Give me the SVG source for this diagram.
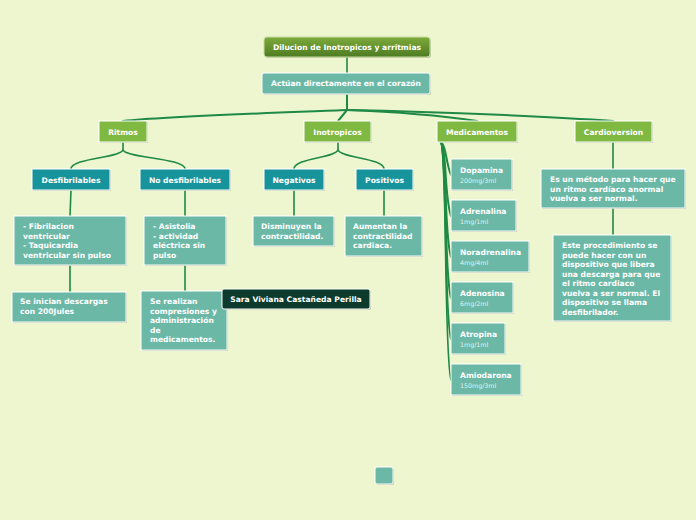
<svg xmlns="http://www.w3.org/2000/svg" width="696" height="520" viewBox="0 0 696 520">
<defs>
<linearGradient id="rootg" x1="0" y1="0" x2="0" y2="1">
<stop offset="0" stop-color="#7eab3c"/>
<stop offset="1" stop-color="#4d7b22"/>
</linearGradient>
<style>
.sh{fill:#9aa58a;opacity:0.6}
.root{fill:url(#rootg);stroke:#c9dca0;stroke-width:1}
.teal{fill:#6bb8a7;stroke:#ffffff;stroke-width:1}
.green{fill:#80b942;stroke:#ffffff;stroke-width:1}
.dteal{fill:#17939c;stroke:#ffffff;stroke-width:1}
.dark{fill:#0c3b2d;stroke:#ffffff;stroke-width:1}
text{font-family:"DejaVu Sans",Verdana,sans-serif;font-weight:bold;font-size:7.6px;fill:#ffffff}
.c{text-anchor:middle}
.sub{font-weight:normal;font-size:6.3px;fill:#e4f2ee}
.con path{fill:none;stroke:#1f8a45;stroke-width:1.6;stroke-linecap:round}
</style>
</defs>
<rect width="696" height="520" fill="#eef6d0"/>
<g class="con" id="connectors">
<path d="M347,57 L347,73"/>
<path d="M347,94 L347,110" style="stroke-width:2"/>
<path d="M347,110 C300,112 170,116 123,121" style="stroke-width:2"/>
<path d="M347,110 L338,121" style="stroke-width:2"/>
<path d="M347,110 C400,112 450,117 477,121" style="stroke-width:2"/>
<path d="M347,110 C450,112 560,117 613,121" style="stroke-width:2"/>
<path d="M123,142 L123,150 C120,158 71,158 71,169"/>
<path d="M123,150 C126,158 185,158 185,169"/>
<path d="M338,142 L338,150 C335,158 294,158 294,169"/>
<path d="M338,150 C341,158 384,158 384,169"/>
<path d="M71,190 L70,216"/>
<path d="M70,265 L70,292"/>
<path d="M185,190 L185,216"/>
<path d="M185,265 L185,291"/>
<path d="M294,190 L294,216"/>
<path d="M384,190 L384,216"/>
<path d="M613,142 L613,169"/>
<path d="M613,208 L613,235"/>
<path d="M441,142 C447,148 445,160 451,175" style="stroke-width:2"/>
<path d="M441,142 C447,150 444,195 451,216" style="stroke-width:2"/>
<path d="M441,142 C447,152 444,235 451,257" style="stroke-width:2"/>
<path d="M441,142 C447,154 444,275 451,298" style="stroke-width:2"/>
<path d="M441,142 C447,156 444,315 451,339" style="stroke-width:1.8"/>
<path d="M441,142 C447,158 444,355 451,380" style="stroke-width:1.6"/>
</g>
<g id="root"><rect class="sh" x="265" y="38" width="166" height="20" rx="3"/><rect class="root" x="264" y="37" width="166" height="20" rx="3"/><text class="c" x="347" y="50">Dilucion de Inotropicos y arritmias</text></g>
<g id="actuan"><rect class="sh" x="263" y="74" width="168" height="21" rx="2"/><rect class="teal" x="262" y="73" width="168" height="21" rx="2"/><text class="c" x="346" y="86">Actúan directamente en el corazón</text></g>
<g id="ritmos"><rect class="sh" x="100" y="122" width="48" height="21"/><rect class="green" x="99" y="121" width="48" height="21"/><text class="c" x="123" y="134.5">Ritmos</text></g>
<g id="inotropicos"><rect class="sh" x="305" y="122" width="67" height="21"/><rect class="green" x="304" y="121" width="67" height="21"/><text class="c" x="337.5" y="134.5">Inotropicos</text></g>
<g id="medicamentos"><rect class="sh" x="438" y="122" width="80" height="21"/><rect class="green" x="437" y="121" width="80" height="21"/><text class="c" x="477" y="134.5">Medicamentos</text></g>
<g id="cardioversion"><rect class="sh" x="576" y="122" width="77" height="21"/><rect class="green" x="575" y="121" width="77" height="21"/><text class="c" x="613.5" y="134.5">Cardioversion</text></g>
<g id="desfibrilables"><rect class="sh" x="33" y="170" width="78" height="21"/><rect class="dteal" x="32" y="169" width="78" height="21"/><text class="c" x="71" y="182.5">Desfibrilables</text></g>
<g id="nodesfibrilables"><rect class="sh" x="141" y="170" width="90" height="21"/><rect class="dteal" x="140" y="169" width="90" height="21"/><text class="c" x="185" y="182.5">No desfibrilables</text></g>
<g id="negativos"><rect class="sh" x="265" y="170" width="60" height="21"/><rect class="dteal" x="264" y="169" width="60" height="21"/><text class="c" x="294" y="182.5">Negativos</text></g>
<g id="positivos"><rect class="sh" x="357" y="170" width="57" height="21"/><rect class="dteal" x="356" y="169" width="57" height="21"/><text class="c" x="384.5" y="182.5">Positivos</text></g>
<g id="fibrilacion"><rect class="sh" x="15" y="217" width="112" height="49"/><rect class="teal" x="14" y="216" width="112" height="49"/><text x="23" y="229">- Fibrilacion</text><text x="23" y="239">ventricular</text><text x="23" y="248">- Taquicardia</text><text x="23" y="257.5">ventricular sin pulso</text></g>
<g id="asistolia"><rect class="sh" x="145" y="217" width="82" height="49"/><rect class="teal" x="144" y="216" width="82" height="49"/><text x="153" y="229">- Asistolia</text><text x="153" y="238.5">- actividad</text><text x="153" y="248">eléctrica sin</text><text x="153" y="257.5">pulso</text></g>
<g id="descargas"><rect class="sh" x="13" y="293" width="114" height="30"/><rect class="teal" x="12" y="292" width="114" height="30"/><text x="20" y="304">Se inician descargas</text><text x="20" y="313.5">con 200Jules</text></g>
<g id="compresiones"><rect class="sh" x="142" y="292" width="86" height="59"/><rect class="teal" x="141" y="291" width="86" height="59"/><text x="150" y="304">Se realizan</text><text x="150" y="313.5">compresiones y</text><text x="150" y="323">administración</text><text x="150" y="332.5">de</text><text x="150" y="342">medicamentos.</text></g>
<g id="disminuyen"><rect class="sh" x="254" y="217" width="81" height="30"/><rect class="teal" x="253" y="216" width="81" height="30"/><text x="261" y="229">Disminuyen la</text><text x="261" y="238.5">contractilidad.</text></g>
<g id="aumentan"><rect class="sh" x="346" y="217" width="77" height="40"/><rect class="teal" x="345" y="216" width="77" height="40"/><text x="353" y="229">Aumentan la</text><text x="353" y="238.5">contractilidad</text><text x="353" y="248">cardiaca.</text></g>
<g id="sara"><rect class="sh" x="223" y="290" width="148" height="20" rx="2"/><rect class="dark" x="222" y="289" width="148" height="20" rx="2"/><text class="c" x="296" y="302">Sara Viviana Castañeda Perilla</text></g>
<g id="dopamina"><rect class="sh" x="452" y="160" width="61" height="31"/><rect class="teal" x="451" y="159" width="61" height="31"/><text x="460" y="173">Dopamina</text><text class="sub" x="460" y="183">200mg/3ml</text></g>
<g id="adrenalina"><rect class="sh" x="452" y="201" width="65" height="31"/><rect class="teal" x="451" y="200" width="65" height="31"/><text x="460" y="214">Adrenalina</text><text class="sub" x="460" y="224">1mg/1ml</text></g>
<g id="noradrenalina"><rect class="sh" x="452" y="242" width="78" height="31"/><rect class="teal" x="451" y="241" width="78" height="31"/><text x="460" y="255">Noradrenalina</text><text class="sub" x="460" y="265">4mg/4ml</text></g>
<g id="adenosina"><rect class="sh" x="452" y="283" width="62" height="31"/><rect class="teal" x="451" y="282" width="62" height="31"/><text x="460" y="296">Adenosina</text><text class="sub" x="460" y="306">6mg/2ml</text></g>
<g id="atropina"><rect class="sh" x="452" y="324" width="54" height="31"/><rect class="teal" x="451" y="323" width="54" height="31"/><text x="460" y="337">Atropina</text><text class="sub" x="460" y="347">1mg/1ml</text></g>
<g id="amiodarona"><rect class="sh" x="452" y="365" width="70" height="31"/><rect class="teal" x="451" y="364" width="70" height="31"/><text x="460" y="378">Amiodarona</text><text class="sub" x="460" y="388">150mg/3ml</text></g>
<g id="metodo"><rect class="sh" x="542" y="170" width="144" height="39"/><rect class="teal" x="541" y="169" width="144" height="39"/><text x="550" y="182">Es un método para hacer que</text><text x="550" y="191.5">un ritmo cardíaco anormal</text><text x="550" y="201">vuelva a ser normal.</text></g>
<g id="procedimiento"><rect class="sh" x="554" y="236" width="118" height="86"/><rect class="teal" x="553" y="235" width="118" height="86"/><text x="562" y="248">Este procedimiento se</text><text x="562" y="257.5">puede hacer con un</text><text x="562" y="267">dispositivo que libera</text><text x="562" y="276.5">una descarga para que</text><text x="562" y="286">el ritmo cardiaco</text><text x="562" y="295.5">vuelva a ser normal. El</text><text x="562" y="305">dispositivo se llama</text><text x="562" y="314.5">desfibrilador.</text></g>
<g id="small"><rect class="sh" x="376" y="468" width="18" height="17" rx="2"/><rect class="teal" x="375" y="467" width="18" height="17" rx="2"/></g>
</svg>
